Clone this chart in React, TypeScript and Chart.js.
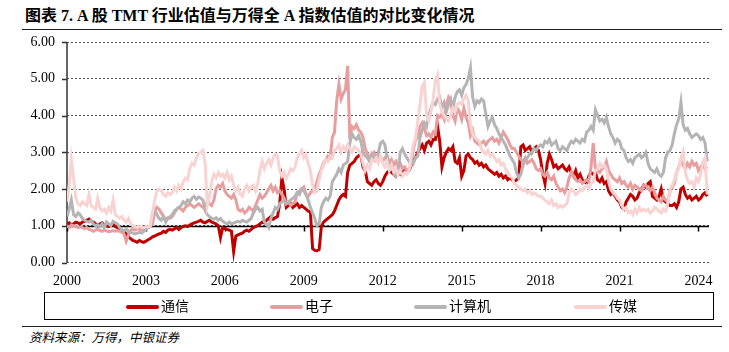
import React, { useEffect, useRef } from "react";
import { Chart, registerables } from "chart.js";

Chart.register(...registerables);

const START_YEAR = 2000;
const X_MAX = 2024.4;
const xTickYears = [2000, 2003, 2006, 2009, 2012, 2015, 2018, 2021, 2024];
const yTickValues = [0, 1, 2, 3, 4, 5, 6];
const seriesNames = ["通信", "电子", "计算机", "传媒"];
const seriesColors = ["#C00000", "#E89E9E", "#B4B4B4", "#F9D2D2"];

// monthly values, Jan 2000 – May 2024
const tongxin = [
  1.05, 1.08, 1.02, 1.05, 1.10, 1.08, 1.05, 1.10, 1.12, 1.15, 1.18, 1.12,
  1.10, 1.05, 1.00, 1.05, 1.08, 1.02, 1.00, 0.98, 1.02, 1.05, 0.98, 0.95,
  0.92, 0.88, 0.85, 0.78, 0.70, 0.65, 0.60, 0.58, 0.55, 0.60, 0.57, 0.55,
  0.58, 0.62, 0.65, 0.70, 0.72, 0.75, 0.78, 0.80, 0.85, 0.82, 0.88, 0.90,
  0.88, 0.92, 0.95, 0.90, 0.95, 0.98, 1.00, 0.98, 1.02, 1.05, 1.08, 1.10,
  1.12, 1.15, 1.10, 1.08, 1.12, 1.15, 1.10, 1.08, 1.05, 1.00, 0.68, 0.95,
  0.92, 0.90, 0.88, 0.85, 0.30, 0.72, 0.75, 0.78, 0.80, 0.85, 0.88, 0.85,
  0.90, 0.95, 0.98, 1.00, 1.05, 1.10, 1.08, 1.15, 1.20, 1.25, 1.18, 1.22,
  1.25, 1.60, 2.30, 2.00, 1.50, 1.55, 1.60, 1.50, 1.55, 1.60, 1.50, 1.55,
  1.50, 1.45, 1.40, 1.38, 0.38, 0.33, 0.32, 0.35, 0.98, 1.10, 1.15, 1.20,
  1.25, 1.30, 1.40, 1.55, 1.70, 1.80, 1.85, 1.80, 2.45, 2.65, 2.70, 2.75,
  2.85, 2.90, 2.95, 2.60, 2.50, 2.20, 2.15, 2.10, 2.20, 2.25, 2.15, 2.10,
  2.20, 2.35, 2.45, 2.50, 2.45, 2.40, 2.35, 2.45, 2.40, 2.50, 2.55, 2.45,
  2.50, 2.65, 2.80, 2.85, 3.00, 3.10, 3.20, 3.05, 3.25, 3.30, 3.20, 3.35,
  3.35, 3.70, 3.30, 2.60, 2.85, 3.00, 3.10, 3.05, 3.15, 2.75, 2.70, 2.85,
  2.35, 2.50, 2.90, 2.95, 2.85, 2.80, 2.70, 2.75, 2.65, 2.70, 2.60, 2.65,
  2.55, 2.50, 2.45, 2.40, 2.45, 2.35, 2.40, 2.30, 2.35, 2.25, 2.30, 2.25,
  2.20, 2.25, 2.30, 3.15, 3.20, 3.05, 3.10, 3.15, 3.00, 3.10, 3.15, 3.05,
  2.80, 2.40, 2.15, 2.70, 2.95, 2.80, 2.60, 2.65, 2.55, 2.60, 2.65, 2.55,
  2.50, 2.60, 2.45, 2.35, 2.50, 2.30, 2.40, 2.25, 2.20, 2.15, 2.35, 2.45,
  2.40, 2.45, 2.25, 2.20, 2.30, 2.15, 2.20, 1.95, 1.85, 1.90, 1.80, 1.70,
  1.65, 1.50, 1.45, 1.65, 1.75, 1.85, 1.80, 1.70, 1.75, 1.90, 2.00, 2.10,
  2.05, 2.15, 2.20, 1.80, 1.75, 1.70, 1.80, 2.00, 1.70, 1.65, 1.60, 1.55,
  1.55, 1.60, 1.50, 1.65, 2.00, 2.05, 1.85, 1.75, 1.80, 1.70, 1.75, 1.80,
  1.70, 1.75, 1.85, 1.90, 1.80,
];

const dianzi = [
  1.00, 0.95, 1.02, 1.00, 0.98, 0.95, 0.97, 0.95, 0.92, 0.95, 0.90, 0.88,
  0.85, 0.88, 0.90, 0.87, 0.85, 0.88, 0.86, 0.84, 0.85, 0.87, 0.85, 0.86,
  0.85, 0.82, 0.78, 0.58, 0.75, 0.88, 0.90, 0.88, 0.92, 0.90, 0.88, 0.90,
  0.92, 0.95, 0.98, 1.05, 1.40, 1.50, 1.45, 1.35, 1.25, 1.18, 1.22, 1.20,
  1.25, 1.35, 1.45, 1.50, 1.45, 1.40, 1.50, 1.55, 1.60, 1.55, 1.50, 1.55,
  1.60, 1.55, 1.50, 1.55, 1.65, 1.60, 1.55, 1.70, 2.00, 2.10, 2.05, 2.15,
  1.95, 1.85, 1.80, 1.75, 1.85, 1.70, 1.45, 1.40, 1.45, 1.35, 1.40, 1.50,
  1.45, 1.40, 1.55, 1.70, 1.85, 1.75, 1.80, 1.90, 2.00, 2.10, 1.95, 2.05,
  1.90, 1.95, 1.85, 1.75, 1.60, 1.65, 1.55, 1.60, 1.65, 1.90, 1.95, 2.00,
  2.05, 1.85, 1.80, 1.90, 1.95, 2.00, 2.20, 2.40, 2.55, 2.70, 2.80, 2.90,
  2.85, 3.40, 3.55, 4.40, 4.85, 4.45, 4.60, 4.70, 5.35, 3.35, 3.70, 3.65,
  3.75, 3.60, 3.55, 3.40, 3.10, 2.95, 2.85, 2.95, 3.00, 2.80, 2.90, 2.85,
  2.75, 2.85, 2.90, 2.70, 2.80, 2.65, 2.75, 2.60, 2.70, 2.55, 2.60, 2.50,
  2.55, 2.65, 3.10, 3.35, 3.40, 3.70, 3.80, 3.65, 3.45, 3.50, 3.40, 3.55,
  3.50, 4.00, 3.95, 4.05, 3.90, 4.30, 4.50, 4.40, 4.00, 3.85, 4.20, 4.10,
  3.90, 4.20, 3.95, 3.80, 3.45, 3.60, 3.30, 3.25, 3.20, 3.25, 3.30, 3.20,
  3.30, 3.35, 3.40, 3.30, 3.35, 3.25, 3.40, 3.55, 3.45, 3.35, 3.20, 3.10,
  3.10, 3.00, 2.90, 2.80, 2.75, 2.85, 2.70, 2.75, 2.80, 2.70, 2.55, 2.50,
  2.55, 2.40, 2.35, 2.45, 2.30, 2.25, 2.35, 2.15, 2.05, 1.95, 2.00, 1.90,
  2.05, 2.30, 2.45, 2.35, 2.25, 2.20, 2.25, 2.15, 2.20, 2.25, 2.20, 2.60,
  3.25, 2.55, 2.50, 2.45, 2.55, 2.60, 2.75, 2.50, 2.40, 2.30, 2.25, 2.20,
  2.30, 2.15, 2.20, 2.10, 2.05, 2.15, 2.00, 2.10, 2.05, 2.00, 1.95, 2.10,
  2.10, 2.00, 1.95, 2.05, 1.90, 1.75, 1.70, 1.65, 1.80, 1.70, 1.65, 1.95,
  2.05, 2.15, 2.45, 2.60, 2.80, 2.65, 2.55, 2.70, 2.60, 2.75, 2.65, 2.70,
  2.50, 2.60, 2.70, 2.55, 2.60,
];

const jisuanji = [
  1.25, 1.45, 1.70, 1.30, 1.25, 1.35, 1.30, 1.20, 1.15, 1.12, 1.10, 1.15,
  1.05, 1.00, 1.02, 0.98, 1.05, 0.95, 1.10, 1.05, 1.00, 1.12, 1.08, 1.05,
  0.95, 0.90, 0.85, 0.92, 0.85, 0.82, 0.80, 0.78, 0.80, 0.82, 0.80, 0.85,
  0.90, 0.95, 1.00, 1.35, 1.42, 1.30, 1.20, 1.15, 1.25, 1.10, 1.20, 1.25,
  1.30, 1.40, 1.45, 1.50, 1.55, 1.65, 1.60, 1.70, 1.65, 1.75, 1.80, 1.72,
  1.78, 1.75, 1.70, 1.40, 1.30, 1.25, 1.20, 1.18, 1.22, 1.15, 1.20, 1.12,
  1.08, 1.05, 1.10, 1.05, 1.07, 1.10, 1.12, 1.10, 1.15, 1.12, 1.10, 1.15,
  1.20, 1.35, 1.45, 1.50, 1.40, 1.45, 1.10, 1.05, 0.95, 1.20, 1.35, 1.50,
  1.45, 1.60, 1.65, 1.70, 1.60, 1.65, 1.70, 1.75, 1.80, 1.90, 1.85, 2.00,
  1.95, 1.85, 1.70, 1.50, 1.35, 1.20, 1.00, 1.05, 1.50, 1.65, 1.75, 1.70,
  1.80, 2.20, 2.30, 2.40, 2.55, 2.45, 2.65, 2.70, 2.75, 3.25, 3.50, 3.40,
  3.35, 3.45, 3.30, 3.00, 2.90, 2.85, 2.75, 2.95, 2.85, 2.80, 3.00, 3.25,
  3.30, 3.20, 2.85, 2.70, 2.65, 2.50, 2.35, 2.45, 3.00, 3.10, 2.95, 2.85,
  2.75, 2.80, 2.70, 2.85, 2.90, 3.40, 3.60, 3.80, 3.70, 4.00, 4.20, 4.35,
  4.30, 4.45, 4.50, 4.20, 4.35, 4.10, 4.30, 4.45, 4.20, 4.50, 4.65, 4.70,
  4.55, 4.75, 4.85, 5.00, 5.30, 4.50, 4.25, 4.40, 4.35, 4.45, 4.40, 4.05,
  3.70, 3.85, 3.95, 3.75, 3.65, 3.50, 3.40, 3.30, 3.20, 3.05, 2.90, 2.80,
  2.70, 2.45, 2.30, 2.40, 2.65, 2.80, 2.85, 2.95, 3.00, 3.10, 3.05, 3.15,
  3.20, 3.15, 3.30, 3.25, 3.35, 3.20, 3.25, 3.30, 3.10, 3.05, 3.15, 3.10,
  3.05, 3.20, 3.30, 3.25, 3.35, 3.30, 3.25, 3.35, 3.30, 3.55, 3.60, 3.70,
  3.60, 4.15, 4.00, 3.85, 3.90, 3.80, 3.95, 3.70, 3.50, 3.40, 3.25, 3.35,
  3.30, 3.10, 3.05, 2.85, 2.75, 2.80, 2.70, 2.85, 2.90, 2.95, 2.85, 2.90,
  3.00, 2.70, 2.55, 2.50, 2.45, 2.55, 2.40, 2.35, 2.45, 2.85, 3.00, 3.05,
  3.20, 3.50, 3.75, 3.90, 4.35, 3.75, 3.60, 3.65, 3.50, 3.40, 3.45, 3.50,
  3.45, 3.35, 3.40, 3.25, 2.75,
];

const chuanmei = [
  1.65, 2.10, 2.80, 2.30, 1.75, 1.60, 1.55, 1.65, 1.60, 1.55, 1.85, 1.55,
  1.50, 1.45, 1.75, 1.50, 1.40, 1.45, 1.35, 1.50, 1.40, 1.70, 1.30, 1.25,
  1.20, 1.25, 1.15, 1.10, 1.20, 1.05, 1.00, 0.98, 0.95, 1.00, 0.97, 0.95,
  0.98, 0.97, 1.00, 1.35, 1.70, 1.95, 2.00, 1.95, 1.85, 1.80, 1.90, 1.85,
  1.90, 2.05, 1.95, 2.10, 2.00, 2.20, 2.30, 2.25, 2.55, 2.70, 2.65, 2.85,
  2.95, 3.00, 3.05, 2.70, 1.55, 1.80, 2.20, 2.40, 2.30, 2.45, 2.35, 2.40,
  2.30, 2.45, 2.25, 2.35, 2.10, 1.95, 2.05, 1.85, 1.80, 2.00, 2.10, 1.95,
  2.05, 2.10, 1.95, 2.15, 2.50, 2.75, 2.55, 2.70, 2.80, 2.65, 2.85, 2.95,
  2.90, 2.50, 2.35, 2.45, 2.30, 2.40, 2.55, 2.50, 2.60, 2.85, 2.95, 3.05,
  2.85, 2.95, 2.70, 2.50, 2.10, 1.90, 1.95, 2.25, 2.50, 2.65, 2.80, 2.75,
  2.90, 2.85, 3.05, 3.10, 3.20, 3.00, 3.15, 3.05, 3.20, 3.10, 3.00, 3.15,
  3.10, 3.05, 2.95, 2.70, 2.50, 2.65, 2.55, 2.80, 2.75, 2.85, 2.70, 2.90,
  2.70, 2.60, 2.75, 2.50, 2.65, 2.45, 2.55, 2.40, 2.50, 2.35, 2.45, 2.40,
  2.50, 2.90, 3.20, 3.40, 3.85, 4.30, 4.80, 4.90, 4.00, 3.85, 4.10, 4.45,
  4.95, 5.10, 4.30, 4.10, 4.00, 3.90, 3.85, 4.00, 4.20, 4.10, 4.30, 4.35,
  4.30, 4.45, 4.55, 4.40, 3.75, 3.50, 3.40, 3.35, 3.30, 3.10, 3.00, 2.95,
  3.05, 2.90, 2.95, 2.85, 2.75, 2.80, 2.65, 2.70, 2.55, 2.45, 2.35, 2.30,
  2.15, 2.10, 2.05, 2.00, 1.95, 2.00, 1.90, 1.95, 1.85, 1.90, 1.85, 1.80,
  1.80, 1.75, 1.70, 1.65, 1.60, 1.70, 1.55, 1.60, 1.50, 1.55, 1.50, 1.55,
  1.60, 1.90, 2.00, 1.95, 1.85, 1.90, 2.00, 1.95, 2.05, 2.10, 2.00, 2.15,
  2.20, 2.50, 2.55, 2.70, 2.60, 2.65, 2.55, 2.20, 2.00, 1.90, 1.85, 1.75,
  1.70, 1.55, 1.45, 1.50, 1.35, 1.40, 1.30, 1.45, 1.35, 1.50, 1.40, 1.45,
  1.40, 1.45, 1.35, 1.40, 1.50, 1.45, 1.40, 1.35, 1.45, 1.40, 1.60, 2.00,
  2.10, 2.25, 2.45, 2.55, 2.80, 3.00, 2.45, 2.25, 2.15, 2.20, 2.05, 2.30,
  2.20, 2.40, 2.75, 2.85, 1.85,
];

const seriesValues = [tongxin, dianzi, jisuanji, chuanmei];

const SERIF = '"Liberation Serif", "Times New Roman", serif';
const CJK = '"Liberation Serif", "Noto Sans CJK SC", serif';

const axisPlugin = {
  id: "excelAxes",
  beforeDatasetsDraw(chart: any) {
    const { ctx, chartArea, scales } = chart;
    const xs = scales.x;
    const ys = scales.y;
    ctx.save();
    ctx.lineWidth = 1.5;
    ctx.strokeStyle = "#333333";
    ctx.beginPath();
    ctx.moveTo(chartArea.left, chartArea.top);
    ctx.lineTo(chartArea.left, chartArea.bottom);
    yTickValues.forEach((v) => {
      const py = Math.round(ys.getPixelForValue(v)) + 0.5;
      ctx.moveTo(chartArea.left - 5, py);
      ctx.lineTo(chartArea.left, py);
    });
    ctx.stroke();
    const py1 = Math.round(ys.getPixelForValue(1)) + 0.5;
    ctx.strokeStyle = "#000000";
    ctx.beginPath();
    ctx.moveTo(chartArea.left, py1);
    ctx.lineTo(chartArea.right, py1);
    xTickYears.forEach((v) => {
      const px = Math.round(xs.getPixelForValue(v)) + 0.5;
      ctx.moveTo(px, py1);
      ctx.lineTo(px, py1 + 5);
    });
    ctx.stroke();
    ctx.restore();
  },
};

export default function App() {
  const canvasRef = useRef<HTMLCanvasElement | null>(null);

  useEffect(() => {
    if (!canvasRef.current) return;
    const datasets = seriesNames.map((name, si) => ({
      label: name,
      data: seriesValues[si].map((v, i) => ({ x: START_YEAR + i / 12, y: v })),
      borderColor: seriesColors[si],
      backgroundColor: seriesColors[si],
      borderWidth: 3,
      pointRadius: 0,
      tension: 0,
      fill: false,
      order: seriesNames.length - 1 - si,
    }));
    const chart = new Chart(canvasRef.current, {
      type: "line",
      data: { datasets },
      plugins: [axisPlugin],
      options: {
        animation: false,
        responsive: false,
        devicePixelRatio: 1,
        layout: { padding: { top: 42, right: 20, left: 0, bottom: 0 } },
        plugins: { legend: { display: false }, tooltip: { enabled: false } },
        scales: {
          x: {
            type: "linear",
            min: START_YEAR,
            max: X_MAX,
            afterBuildTicks: (scale: any) => {
              scale.ticks = xTickYears.map((v) => ({ value: v }));
            },
            afterFit: (scale: any) => {
              scale.height = 37.5;
            },
            ticks: {
              autoSkip: false,
              maxRotation: 0,
              padding: 10,
              color: "#000",
              font: { family: SERIF, size: 14 },
              callback: (v: any) => String(v),
            },
            grid: { display: false, drawTicks: false },
            border: { display: false },
          },
          y: {
            type: "linear",
            min: 0,
            max: 6,
            afterBuildTicks: (scale: any) => {
              scale.ticks = yTickValues.map((v) => ({ value: v }));
            },
            afterFit: (scale: any) => {
              scale.width = 67;
            },
            ticks: {
              padding: 12,
              color: "#000",
              font: { family: SERIF, size: 14 },
              callback: (v: any) => Number(v).toFixed(2),
            },
            grid: { color: "#555555", lineWidth: 1, drawTicks: false },
            border: { display: false, dash: [2, 2] },
          },
        },
      },
    });
    return () => chart.destroy();
  }, []);

  const legendLineX = [126, 270, 414, 574];
  const legendTextX = [161, 305, 449, 609];

  return (
    <div style={{ position: "absolute", left: 0, top: 0, width: 729, height: 352, background: "#fff", overflow: "hidden" }}>
      <div
        style={{
          position: "absolute",
          left: 25,
          top: 6,
          fontSize: 16,
          lineHeight: "20px",
          fontWeight: "bold",
          fontFamily: CJK,
          whiteSpace: "nowrap",
          color: "#000",
        }}
      >
        图表 7. A 股 TMT 行业估值与万得全 A 指数估值的对比变化情况
      </div>
      <div style={{ position: "absolute", left: 22, top: 29, width: 700, height: 1, background: "#222" }} />
      <canvas
        ref={canvasRef}
        width={729}
        height={300}
        style={{ position: "absolute", left: 0, top: 0, width: 729, height: 300 }}
      />
      <div
        style={{
          position: "absolute",
          left: 44,
          top: 292,
          width: 670,
          height: 28,
          border: "1px solid #000",
          boxSizing: "border-box",
        }}
      />
      {seriesNames.map((name, i) => (
        <React.Fragment key={name}>
          <div
            style={{
              position: "absolute",
              left: legendLineX[i],
              top: 305,
              width: 33,
              height: 4,
              borderRadius: 2,
              background: seriesColors[i],
            }}
          />
          <div
            style={{
              position: "absolute",
              left: legendTextX[i],
              top: 298,
              fontSize: 14,
              lineHeight: "18px",
              fontFamily: CJK,
              color: "#000",
              whiteSpace: "nowrap",
            }}
          >
            {name}
          </div>
        </React.Fragment>
      ))}
      <div style={{ position: "absolute", left: 22, top: 326, width: 700, height: 1, background: "#222" }} />
      <div
        style={{
          position: "absolute",
          left: 29,
          top: 330,
          fontSize: 12.5,
          lineHeight: "16px",
          fontStyle: "italic",
          fontFamily: CJK,
          color: "#000",
          whiteSpace: "nowrap",
        }}
      >
        资料来源：万得，中银证券
      </div>
    </div>
  );
}
